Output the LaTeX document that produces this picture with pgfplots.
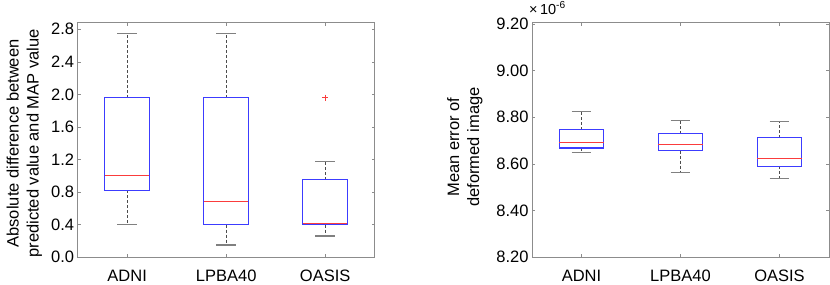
\documentclass[border=0pt]{standalone}
\usepackage{fontspec}
\setmainfont{Liberation Sans}
\usepackage{pgfplots}
\pgfplotsset{compat=1.18}
\usepgfplotslibrary{statistics}
\definecolor{axgray}{gray}{0.55}
\definecolor{boxblue}{RGB}{60,60,255}
\definecolor{medred}{RGB}{250,60,60}
\pgfplotsset{
  mybox/.style={
    scale only axis, width=297pt, height=234.5pt,
    xmin=0.5, xmax=3.5,
    xtick={1,2,3}, xticklabels={ADNI,LPBA40,OASIS},
    axis line style={axgray, line width=0.6pt},
    major tick style={axgray, line width=0.5pt},
    major tick length=3pt,
    tick align=inside,
    ticklabel style={font=\fontsize{16.5}{18}\selectfont},
    label style={font=\fontsize{16.5}{20}\selectfont, align=center},
    /pgf/number format/assume math mode=true,
    xticklabel style={anchor=base, inner sep=0pt, yshift=-24.5pt},
    boxplot/draw direction=y,
    boxplot/box extend=0.45,
    boxplot/whisker extend=0.2,
    boxplot/every box/.style={draw=boxblue, line width=1.1pt},
    boxplot/every median/.style={draw=medred, line width=1.1pt},
    boxplot/draw/lower whisker/.code={%
      \draw[black!70, line width=0.6pt, dash pattern=on 3pt off 2pt]
        (boxplot box cs:\pgfplotsboxplotvalue{lower quartile},0.5)
        -- (boxplot box cs:\pgfplotsboxplotvalue{lower whisker},0.5);
      \draw[black!50, line width=1.1pt]
        (boxplot whisker cs:\pgfplotsboxplotvalue{lower whisker},0)
        -- (boxplot whisker cs:\pgfplotsboxplotvalue{lower whisker},1);
    },
    boxplot/draw/upper whisker/.code={%
      \draw[black!70, line width=0.6pt, dash pattern=on 3pt off 2pt]
        (boxplot box cs:\pgfplotsboxplotvalue{upper quartile},0.5)
        -- (boxplot box cs:\pgfplotsboxplotvalue{upper whisker},0.5);
      \draw[black!50, line width=1.1pt]
        (boxplot whisker cs:\pgfplotsboxplotvalue{upper whisker},0)
        -- (boxplot whisker cs:\pgfplotsboxplotvalue{upper whisker},1);
    },
  }
}
\begin{document}
\begin{tikzpicture}
\path[use as bounding box] (0,0) rectangle (830pt,-284pt);
% left panel
\begin{axis}[mybox, at={(77.7pt,-22.7pt)}, anchor=north west,
  ymin=0, ymax=2.88,
  ytick={0,0.4,0.8,1.2,1.6,2.0,2.4,2.8},
  yticklabel style={/pgf/number format/.cd, fixed, fixed zerofill, precision=1},
  ylabel={Absolute difference between\\predicted value and MAP value},
  y label style={at={(axis description cs:-0.18,0.485)}, anchor=center},
]
\addplot[boxblue, boxplot prepared={draw position=1,
  lower whisker=0.40, lower quartile=0.82, median=1.00,
  upper quartile=1.96, upper whisker=2.75}] coordinates {};
\addplot[boxblue, boxplot prepared={draw position=2,
  lower whisker=0.15, lower quartile=0.40, median=0.68,
  upper quartile=1.96, upper whisker=2.75}] coordinates {};
\addplot[boxblue, boxplot prepared={draw position=3,
  lower whisker=0.26, lower quartile=0.40, median=0.415,
  upper quartile=0.95, upper whisker=1.17}] coordinates {};
\addplot[medred, only marks, mark=+, mark size=3pt, mark options={draw=medred, line width=1pt}]
  coordinates {(3,1.96)};
\end{axis}
% right panel
\begin{axis}[mybox, name=R, at={(532pt,-22.7pt)}, anchor=north west,
  ymin=8.2, ymax=9.205,
  ytick={8.2,8.4,8.6,8.8,9.0,9.2},
  yticklabel style={/pgf/number format/.cd, fixed, fixed zerofill, precision=2},
  ylabel={Mean error of\\deformed image},
  y label style={at={(axis description cs:-0.226,0.47)}, anchor=center},
]
\addplot[boxblue, boxplot prepared={draw position=1,
  lower whisker=8.648, lower quartile=8.668, median=8.693,
  upper quartile=8.746, upper whisker=8.824}] coordinates {};
\addplot[boxblue, boxplot prepared={draw position=2,
  lower whisker=8.562, lower quartile=8.657, median=8.684,
  upper quartile=8.730, upper whisker=8.787}] coordinates {};
\addplot[boxblue, boxplot prepared={draw position=3,
  lower whisker=8.538, lower quartile=8.590, median=8.624,
  upper quartile=8.713, upper whisker=8.781}] coordinates {};
\end{axis}
\node[anchor=base west, inner sep=0pt, font=\fontsize{14.5}{16}\selectfont]
  at (529pt,-14pt) {×\,10\textsuperscript{-6}};
\end{tikzpicture}
\end{document}
